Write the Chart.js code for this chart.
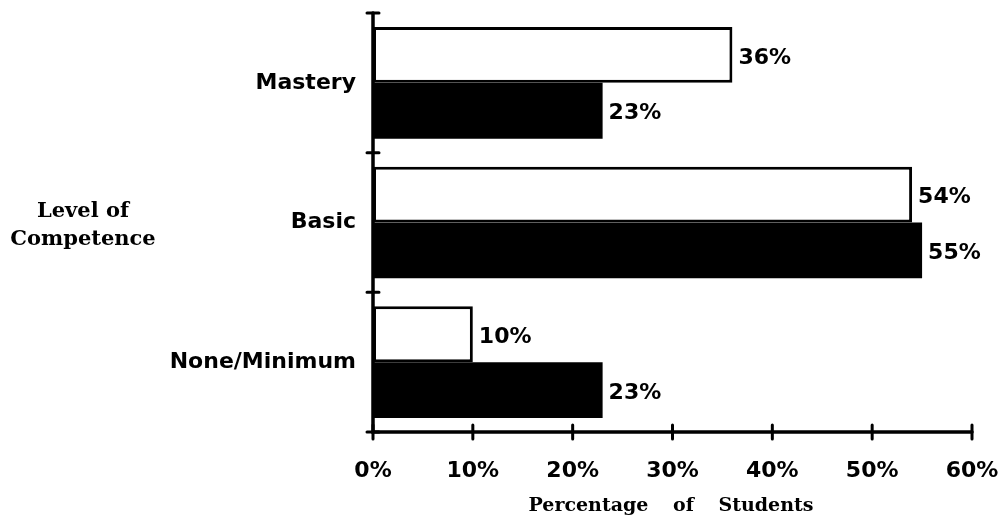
<!DOCTYPE html>
<html>
<head>
<meta charset="utf-8">
<script src="https://cdn.jsdelivr.net/npm/chart.js@4.4.1/dist/chart.umd.min.js"></script>
<style>
  html, body { margin: 0; padding: 0; background: #fff; }
  #wrap { width: 1003px; height: 523px; position: relative; }
</style>
</head>
<body>
<div id="wrap"><canvas id="chart"></canvas></div>
<script>
// Competence levels and the two groups of students (percent)
const categories = ['Mastery', 'Basic', 'None/Minimum'];
const openBars = [36, 54, 10];
const solidBars = [23, 55, 23];
const xTickValues = [0, 10, 20, 30, 40, 50, 60];
const xAxisTitle = 'Percentage of Students';
const yAxisTitle = ['Level of', 'Competence'];

const sansBold = '"DejaVu Sans", sans-serif';
const serifBold = '"DejaVu Serif", serif';

// keep the plot area exactly where the layout padding puts it
function fixScale(size) {
  return s => {
    if (s.isHorizontal()) s.height = size; else s.width = size;
    s.paddingLeft = s.paddingRight = s.paddingTop = s.paddingBottom = 0;
  };
}

// Axis lines with cross-shaped tick marks, value labels and titles
const framePlugin = {
  id: 'frame',
  afterDatasetsDraw(chart) {
    const { ctx, chartArea, scales } = chart;
    const { left, right, top, bottom } = chartArea;
    const x = scales.x, y = scales.y;
    ctx.save();

    // value labels at the end of each bar
    ctx.fillStyle = '#000';
    ctx.font = 'bold 22px ' + sansBold;
    ctx.textAlign = 'left';
    ctx.textBaseline = 'middle';
    chart.data.datasets.forEach((ds, di) => {
      const meta = chart.getDatasetMeta(di);
      meta.data.forEach((bar, i) => {
        ctx.fillText(ds.data[i] + '%', bar.x + 6, bar.y + 3);
      });
    });

    // axes
    ctx.strokeStyle = '#000';
    ctx.lineWidth = 3.5;
    ctx.lineCap = 'round';
    ctx.beginPath();
    ctx.moveTo(left, top);
    ctx.lineTo(left, bottom);
    ctx.lineTo(right, bottom);
    ctx.stroke();

    // category boundary ticks on the vertical axis
    ctx.lineWidth = 3;
    ctx.beginPath();
    const n = categories.length;
    for (let i = 0; i <= n; i++) {
      let yy;
      if (i === 0) yy = top;
      else if (i === n) yy = bottom;
      else yy = (y.getPixelForValue(i - 1) + y.getPixelForValue(i)) / 2;
      ctx.moveTo(left - 6, yy);
      ctx.lineTo(left + 6, yy);
    }
    // value ticks on the horizontal axis
    xTickValues.forEach(v => {
      const px = x.getPixelForValue(v);
      ctx.moveTo(px, bottom - 7);
      ctx.lineTo(px, bottom + 7);
    });
    ctx.stroke();

    // titles
    ctx.font = 'bold 21px ' + serifBold;
    ctx.textAlign = 'center';
    ctx.textBaseline = 'alphabetic';
    ctx.fillText(yAxisTitle[0], 83, 217);
    ctx.fillText(yAxisTitle[1], 83, 245);

    ctx.font = 'bold 19px ' + serifBold;
    if ('wordSpacing' in ctx) ctx.wordSpacing = '18px';
    ctx.fillText(xAxisTitle, 671, 511);
    ctx.restore();
  }
};

new Chart(document.getElementById('chart'), {
  type: 'bar',
  data: {
    labels: categories,
    datasets: [
      {
        data: openBars,
        backgroundColor: '#ffffff',
        borderColor: '#000000',
        borderWidth: 3,
        borderSkipped: false,
        categoryPercentage: 0.8,
        barPercentage: 1.0
      },
      {
        data: solidBars,
        backgroundColor: '#000000',
        borderWidth: 0,
        categoryPercentage: 0.8,
        barPercentage: 1.0
      }
    ]
  },
  options: {
    indexAxis: 'y',
    responsive: true,
    maintainAspectRatio: false,
    animation: false,
    devicePixelRatio: 1,
    layout: { padding: { top: 13, right: 31, left: 0, bottom: 0 } },
    plugins: {
      legend: { display: false },
      tooltip: { enabled: false }
    },
    scales: {
      x: {
        type: 'linear',
        min: 0,
        max: 60,
        grid: { display: false },
        border: { display: false },
        ticks: {
          stepSize: 10,
          maxRotation: 0,
          padding: 18,
          color: '#000',
          font: { family: sansBold, size: 22, weight: 'bold' },
          callback: v => v + '%'
        },
        afterFit: fixScale(91)
      },
      y: {
        type: 'category',
        grid: { display: false },
        border: { display: false },
        ticks: {
          padding: 9,
          color: '#000',
          font: { family: sansBold, size: 22, weight: 'bold' }
        },
        afterFit: fixScale(373)
      }
    }
  },
  plugins: [framePlugin]
});
</script>
</body>
</html>
